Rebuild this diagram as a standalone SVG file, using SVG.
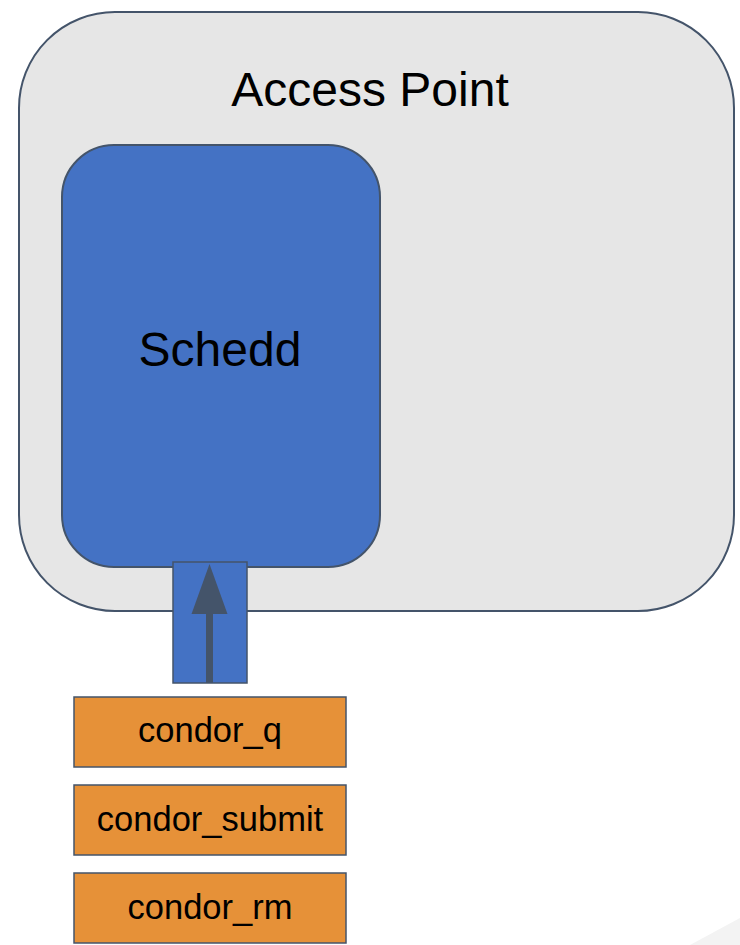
<svg xmlns="http://www.w3.org/2000/svg" width="740" height="945" viewBox="0 0 740 945">
  <style>
    .outline { stroke: #44546a; stroke-width: 2; }
    .ap { fill: #e6e6e6; }
    .blue { fill: #4472c4; }
    .tool { fill: #e69138; stroke: #44546a; stroke-width: 1.5; }
    .lbl { font-family: "Liberation Sans", Arial, sans-serif; fill: #000; text-anchor: middle; }
  </style>
  <rect width="740" height="945" fill="#ffffff"/>
  <polygon points="690,945 740,918 740,945" fill="#f3f3f3"/>

  <g id="access-point">
    <rect class="ap outline" x="19" y="12" width="715" height="599" rx="96" ry="96"/>
    <text class="lbl" x="370" y="106" font-size="48">Access Point</text>
  </g>

  <g id="schedd">
    <rect class="blue outline" x="62" y="145" width="318" height="422" rx="52" ry="52"/>
    <text class="lbl" x="220" y="366" font-size="48">Schedd</text>
  </g>

  <g id="port">
    <rect class="blue" x="173" y="562" width="74" height="121" stroke="#44546a" stroke-width="1.5"/>
  </g>

  <g id="connectors">
    <rect x="206" y="610" width="7" height="73" fill="#44546a"/>
    <polygon points="209.5,564 191.5,614 227.5,614" fill="#44546a"/>
  </g>

  <g id="condor_q">
    <rect class="tool" x="74" y="697" width="272" height="70"/>
    <text class="lbl" x="210" y="742" font-size="34.5">condor_q</text>
  </g>
  <g id="condor_submit">
    <rect class="tool" x="74" y="785" width="272" height="70"/>
    <text class="lbl" x="210" y="831" font-size="34.5">condor_submit</text>
  </g>
  <g id="condor_rm">
    <rect class="tool" x="74" y="873" width="272" height="70"/>
    <text class="lbl" x="210" y="919" font-size="34.5">condor_rm</text>
  </g>
</svg>
